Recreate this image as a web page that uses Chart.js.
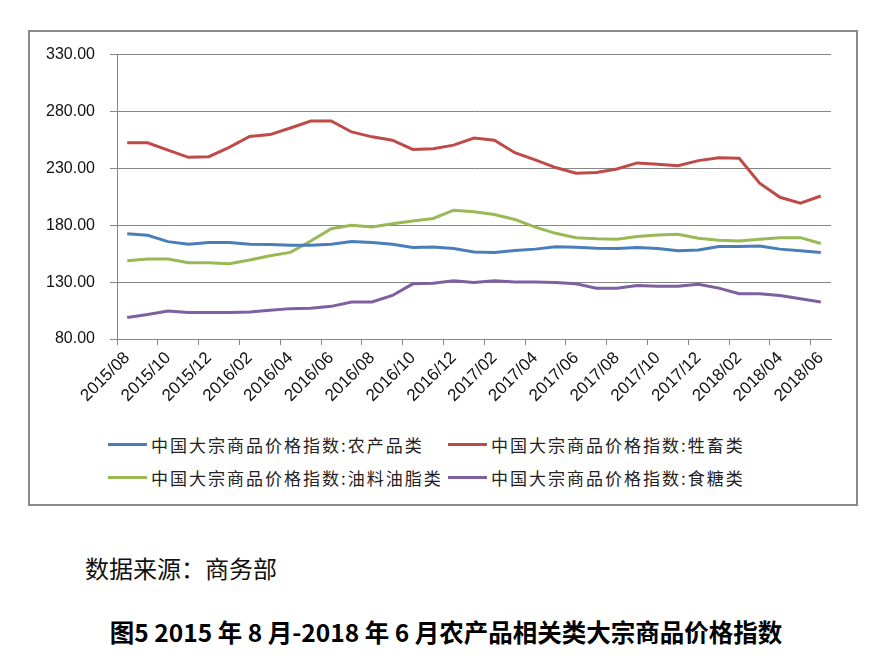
<!DOCTYPE html>
<html>
<head>
<meta charset="utf-8">
<script src="https://cdn.jsdelivr.net/npm/chart.js@4"></script>
<style>
    body { margin: 0; width: 892px; height: 659px; background: #fff; position: relative; font-family: "Noto Sans CJK SC", sans-serif; }
    #frame { position: absolute; left: 28px; top: 30px; width: 826px; height: 472px; border: 2px solid #8a8a8a; }
    #wrap { position: absolute; left: 28px; top: 30px; width: 829px; height: 390px; }
    #legend { position: absolute; left: 0; top: 0; }
    .item { position: absolute; display: flex; align-items: center; font-size: 17px; letter-spacing: 2px; color: #222; white-space: nowrap; }
    .item .swatch { width: 39px; height: 3px; margin-right: 4px; }
    #source { position: absolute; left: 85px; top: 550px; font-size: 24px; color: #111; }
    #title { position: absolute; left: 0; width: 892px; top: 614px; text-align: center; font-size: 24.5px; font-weight: bold; color: #000; }
</style>
</head>
<body>
<div id="frame"></div>
<div id="wrap"><canvas id="chart"></canvas></div>
<div id="legend"></div>
<div id="source">数据来源：商务部</div>
<div id="title">图5 2015 年 8 月-2018 年 6 月农产品相关类大宗商品价格指数</div>
<script>
// months shown on the x axis
const months = [
    '2015/08', '2015/09', '2015/10', '2015/11', '2015/12',
    '2016/01', '2016/02', '2016/03', '2016/04', '2016/05', '2016/06', '2016/07',
    '2016/08', '2016/09', '2016/10', '2016/11', '2016/12',
    '2017/01', '2017/02', '2017/03', '2017/04', '2017/05', '2017/06', '2017/07',
    '2017/08', '2017/09', '2017/10', '2017/11', '2017/12',
    '2018/01', '2018/02', '2018/03', '2018/04', '2018/05', '2018/06'
];

const seriesNames = [
    '中国大宗商品价格指数:农产品类',
    '中国大宗商品价格指数:牲畜类',
    '中国大宗商品价格指数:油料油脂类',
    '中国大宗商品价格指数:食糖类'
];

const agriProducts = [172.6, 171.2, 165.6, 163.3, 164.8, 164.8, 163.3, 163.0, 162.4, 162.4, 163.3, 165.6,
    164.8, 163.3, 160.4, 160.9, 159.5, 156.4, 156.1, 157.8, 159.0, 161.0, 160.7, 159.8,
    159.5, 160.4, 159.5, 157.5, 158.3, 161.3, 161.3, 161.8, 159.0, 157.5, 156.1];
const livestock = [252.5, 252.5, 246.1, 239.7, 240.3, 248.4, 258.0, 259.7, 265.5, 271.6, 271.6, 262.0,
    257.7, 254.8, 246.6, 247.2, 250.4, 256.6, 254.8, 243.8, 237.4, 230.7, 225.7, 226.3,
    229.5, 234.8, 233.6, 232.4, 236.8, 239.4, 238.8, 217.0, 204.6, 199.3, 205.7];
const oilseeds = [148.8, 150.3, 150.3, 147.1, 147.1, 146.2, 149.4, 153.2, 156.1, 166.2, 177.0, 179.9,
    178.4, 181.3, 183.7, 186.0, 193.2, 191.8, 189.4, 185.1, 178.4, 172.9, 169.1, 168.2,
    167.7, 170.0, 171.5, 172.0, 168.6, 166.8, 166.2, 167.7, 169.1, 169.1, 163.9];
const sugar = [98.9, 101.5, 104.7, 103.2, 103.2, 103.2, 103.8, 105.3, 106.7, 107.0, 108.7, 112.5,
    112.5, 118.3, 128.5, 129.0, 131.1, 129.6, 131.1, 130.2, 130.2, 129.6, 128.5, 124.7,
    124.7, 127.0, 126.4, 126.4, 128.2, 124.7, 119.8, 119.8, 118.3, 115.4, 112.5];

const yTicks = [80, 130, 180, 230, 280, 330];

const colors = ['#4a7ebb', '#be4b48', '#98b954', '#7d60a0'];
const values = [agriProducts, livestock, oilseeds, sugar];

const axisColor = '#868686';
const yFont = { family: '"Liberation Sans", Arial, sans-serif', size: 16 };
const xFont = { family: '"Liberation Sans", Arial, sans-serif', size: 17 };

// legend placed in two columns like the original
const legendSlots = [[108, 445], [448, 445], [108, 478], [448, 478]];
const legend = document.getElementById('legend');
seriesNames.forEach((name, i) => {
    const item = document.createElement('div');
    item.className = 'item';
    item.style.left = legendSlots[i][0] + 'px';
    item.style.top = (legendSlots[i][1] - 13) + 'px';
    item.innerHTML = `<span class="swatch" style="background:${colors[i]}"></span><span>${name}</span>`;
    legend.appendChild(item);
});

const ctx = document.getElementById('chart').getContext('2d');
new Chart(ctx, {
    type: 'line',
    data: {
        labels: months,
        datasets: seriesNames.map((name, i) => ({
            label: name,
            data: values[i],
            borderColor: colors[i],
            backgroundColor: colors[i],
            borderWidth: 3,
            pointRadius: 0,
            tension: 0,
            fill: false
        }))
    },
    options: {
        responsive: true,
        maintainAspectRatio: false,
        animation: false,
        layout: { padding: { top: 22, right: 26, left: 0, bottom: 0 } },
        plugins: {
            legend: { display: false },
            tooltip: { enabled: false }
        },
        scales: {
            x: {
                type: 'category',
                offset: true,
                border: { display: true, color: axisColor, width: 1 },
                grid: {
                    offset: true,
                    drawOnChartArea: false,
                    tickLength: 6,
                    color: c => (c.index % 2 === 0 ? axisColor : 'rgba(0,0,0,0)')
                },
                ticks: {
                    autoSkip: false,
                    maxRotation: 45,
                    minRotation: 45,
                    padding: 3,
                    color: '#111',
                    font: xFont,
                    callback: (v, i) => (i % 2 === 0 ? months[i] : '')
                },
                afterFit: scale => { scale.height = 81; }
            },
            y: {
                min: yTicks[0],
                max: yTicks[yTicks.length - 1],
                afterBuildTicks: scale => { scale.ticks = yTicks.map(v => ({ value: v })); },
                border: { display: true, color: axisColor, width: 1 },
                grid: { color: axisColor, tickLength: 7 },
                ticks: {
                    padding: 15,
                    color: '#111',
                    font: yFont,
                    callback: v => Number(v).toFixed(2)
                },
                afterFit: scale => { scale.width = 89; }
            }
        }
    }
});
</script>
</body>
</html>
